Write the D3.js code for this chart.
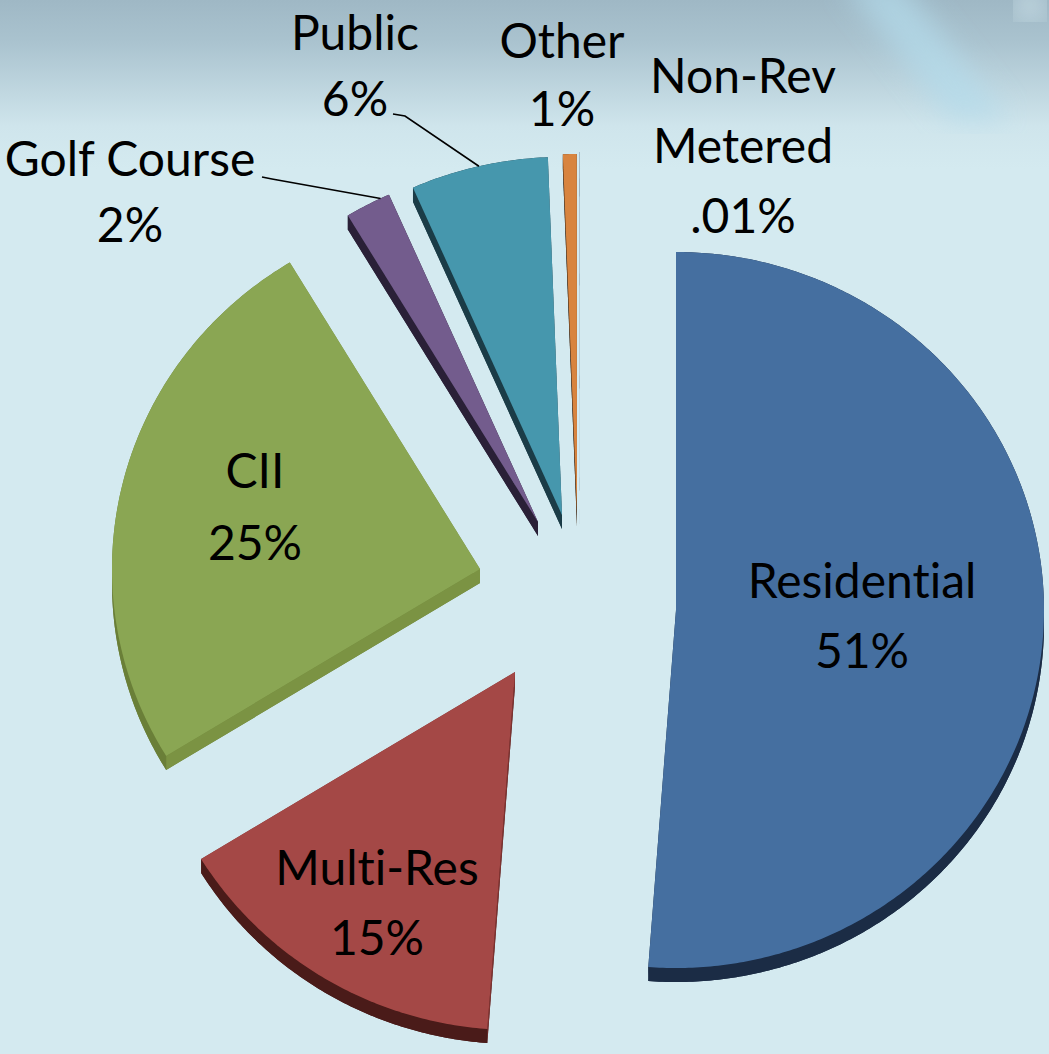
<!DOCTYPE html>
<html lang="en">
<head>
  <meta charset="UTF-8">
  <title>Water use by customer class</title>
  <script src="https://cdn.jsdelivr.net/npm/d3@7/dist/d3.min.js"></script>
  <style>
    body { margin: 0; background: #d4eaf0; }
    .chart svg text { font-family: Lato, "Open Sans", sans-serif; fill: #000; font-variant-ligatures: none; }
  </style>
</head>
<body>

<div class="chart"></div>
<script>
  // data
  const categories = ['Residential', 'Multi-Res', 'CII', 'Golf Course', 'Public', 'Other', 'Non-Rev Metered'];
  const shares = [51, 15, 25, 2, 6, 0.6, 0.01];
  const shareText = ['51%', '15%', '25%', '2%', '6%', '1%', '.01%'];
  const labelLines = [['Residential'], ['Multi-Res'], ['CII'], ['Golf Course'], ['Public'], ['Other'], ['Non-Rev', 'Metered']];

  // layout / style
  let chart = {
    size: {w: 1049, h: 1054},
    center: {x: 570, y: 605},
    rx: 368, ry: 358, depth: 14,
    fontSize: 48, lineGap: 70
  };
  const explode = [[106, 5], [-55, 67], [-90, -36], [-32, -83], [-8, -90], [7, -93], [10, -95]];
  const topColor = ['#456fa0', '#a44846', '#8aa653', '#735c8d', '#4697ad', '#d8843f', '#a9c4e4'];
  const edgeColor = ['#1b2c45', '#7f3331', '#7b9343', '#2a2037', '#1b3c47', '#3a2a1c', '#1b2c45'];
  const rimColor = ['#1b2c45', '#4a1b19', '#6a7f38', '#2a2037', '#1b3c47', '#5a3515', '#1b2c45'];
  const labelPos = [[862, 598], [377, 885], [255, 488], [130, 176], [355, 50], [562, 58], [743, 93]];
  const gaps = [70, 70, 72, 66, 66, 68, 70];
  const leaders = {
    3: {from: [[262, 177], [272, 179]], at: 0.8},
    4: {from: [[393, 114], [405, 116]], at: 0.5}
  };

  let svg = d3.select('.chart')
    .append('svg')
    .attr('width', chart.size.w)
    .attr('height', chart.size.h);

  // background
  let defs = svg.append('defs');
  let bg = defs.append('linearGradient').attr('id', 'bg').attr('x1', 0).attr('y1', 0).attr('x2', 0).attr('y2', 1);
  [[0, '#9fb8c5'], [0.04, '#aac3cf'], [0.12, '#cfe5ec'], [0.16, '#d4eaf0'], [1, '#d4eaf0']]
    .forEach(s => bg.append('stop').attr('offset', s[0]).attr('stop-color', s[1]));
  defs.append('filter').attr('id', 'blur').append('feGaussianBlur').attr('stdDeviation', 14);

  svg.append('rect').attr('width', chart.size.w).attr('height', chart.size.h).attr('fill', 'url(#bg)');
  svg.append('path')
    .attr('d', 'M840,-20 L900,-20 L1010,120 L950,120 Z')
    .attr('fill', '#b4dcec').attr('opacity', 0.7).attr('filter', 'url(#blur)');
  svg.append('circle').attr('cx', 1030).attr('cy', 5).attr('r', 14)
    .attr('fill', '#dff2f8').attr('opacity', 0.8).attr('filter', 'url(#blur)');

  const pie = d3.pie().sort(null).value(d => d);
  const arcs = pie(shares);

  const pt = (ax, ay, t) => [ax + chart.rx * Math.sin(t), ay - chart.ry * Math.cos(t)];
  const arcPts = (ax, ay, a0, a1) => {
    const n = Math.max(2, Math.ceil((a1 - a0) / 0.01));
    return d3.range(n + 1).map(i => pt(ax, ay, a0 + (a1 - a0) * i / n));
  };
  const line = d3.line().curve(d3.curveLinearClosed);

  const slices = arcs.map((a, i) => ({
    i, a0: a.startAngle, a1: a.endAngle,
    ax: chart.center.x + explode[i][0],
    ay: chart.center.y + explode[i][1]
  }));

  let g = svg.selectAll('g.slice')
    .data(slices.slice().sort((p, q) => p.ay - q.ay))
    .enter()
    .append('g')
    .attr('class', 'slice');

  const D = chart.depth;
  // bottom face
  g.append('path')
    .attr('d', d => line([[d.ax, d.ay + D]].concat(arcPts(d.ax, d.ay + D, d.a0, d.a1))))
    .attr('fill', d => rimColor[d.i]);
  // radial edge faces
  [d => d.a0, d => d.a1].forEach(angle => {
    g.append('path')
      .attr('d', d => {
        const p = pt(d.ax, d.ay, angle(d));
        return line([[d.ax, d.ay], p, [p[0], p[1] + D], [d.ax, d.ay + D]]);
      })
      .attr('fill', d => edgeColor[d.i]);
  });
  // outer rim
  g.append('path')
    .attr('d', d => {
      const top = arcPts(d.ax, d.ay, d.a0, d.a1);
      const bot = top.map(p => [p[0], p[1] + D]).reverse();
      return line(top.concat(bot));
    })
    .attr('fill', d => rimColor[d.i]);
  // top face
  g.append('path')
    .attr('d', d => line([[d.ax, d.ay]].concat(arcPts(d.ax, d.ay, d.a0, d.a1))))
    .attr('fill', d => topColor[d.i]);

  // leader lines
  Object.keys(leaders).forEach(k => {
    const s = slices[+k], L = leaders[k];
    const end = pt(s.ax, s.ay, s.a0 + (s.a1 - s.a0) * L.at);
    svg.append('path')
      .attr('d', d3.line()(L.from.concat([end])))
      .attr('fill', 'none')
      .attr('stroke', '#000')
      .attr('stroke-width', 1.6);
  });

  // labels
  let labels = svg.selectAll('text.lbl')
    .data(categories)
    .enter()
    .append('text')
    .attr('class', 'lbl')
    .attr('text-anchor', 'middle')
    .attr('font-size', chart.fontSize)
    .attr('x', (d, i) => labelPos[i][0])
    .attr('y', (d, i) => labelPos[i][1]);

  labels.each(function (d, i) {
    const t = d3.select(this);
    labelLines[i].concat([shareText[i]]).forEach((s, j) => {
      t.append('tspan')
        .attr('x', labelPos[i][0])
        .attr('dy', j === 0 ? 0 : gaps[i])
        .text(s);
    });
  });
</script>
</body>
</html>
